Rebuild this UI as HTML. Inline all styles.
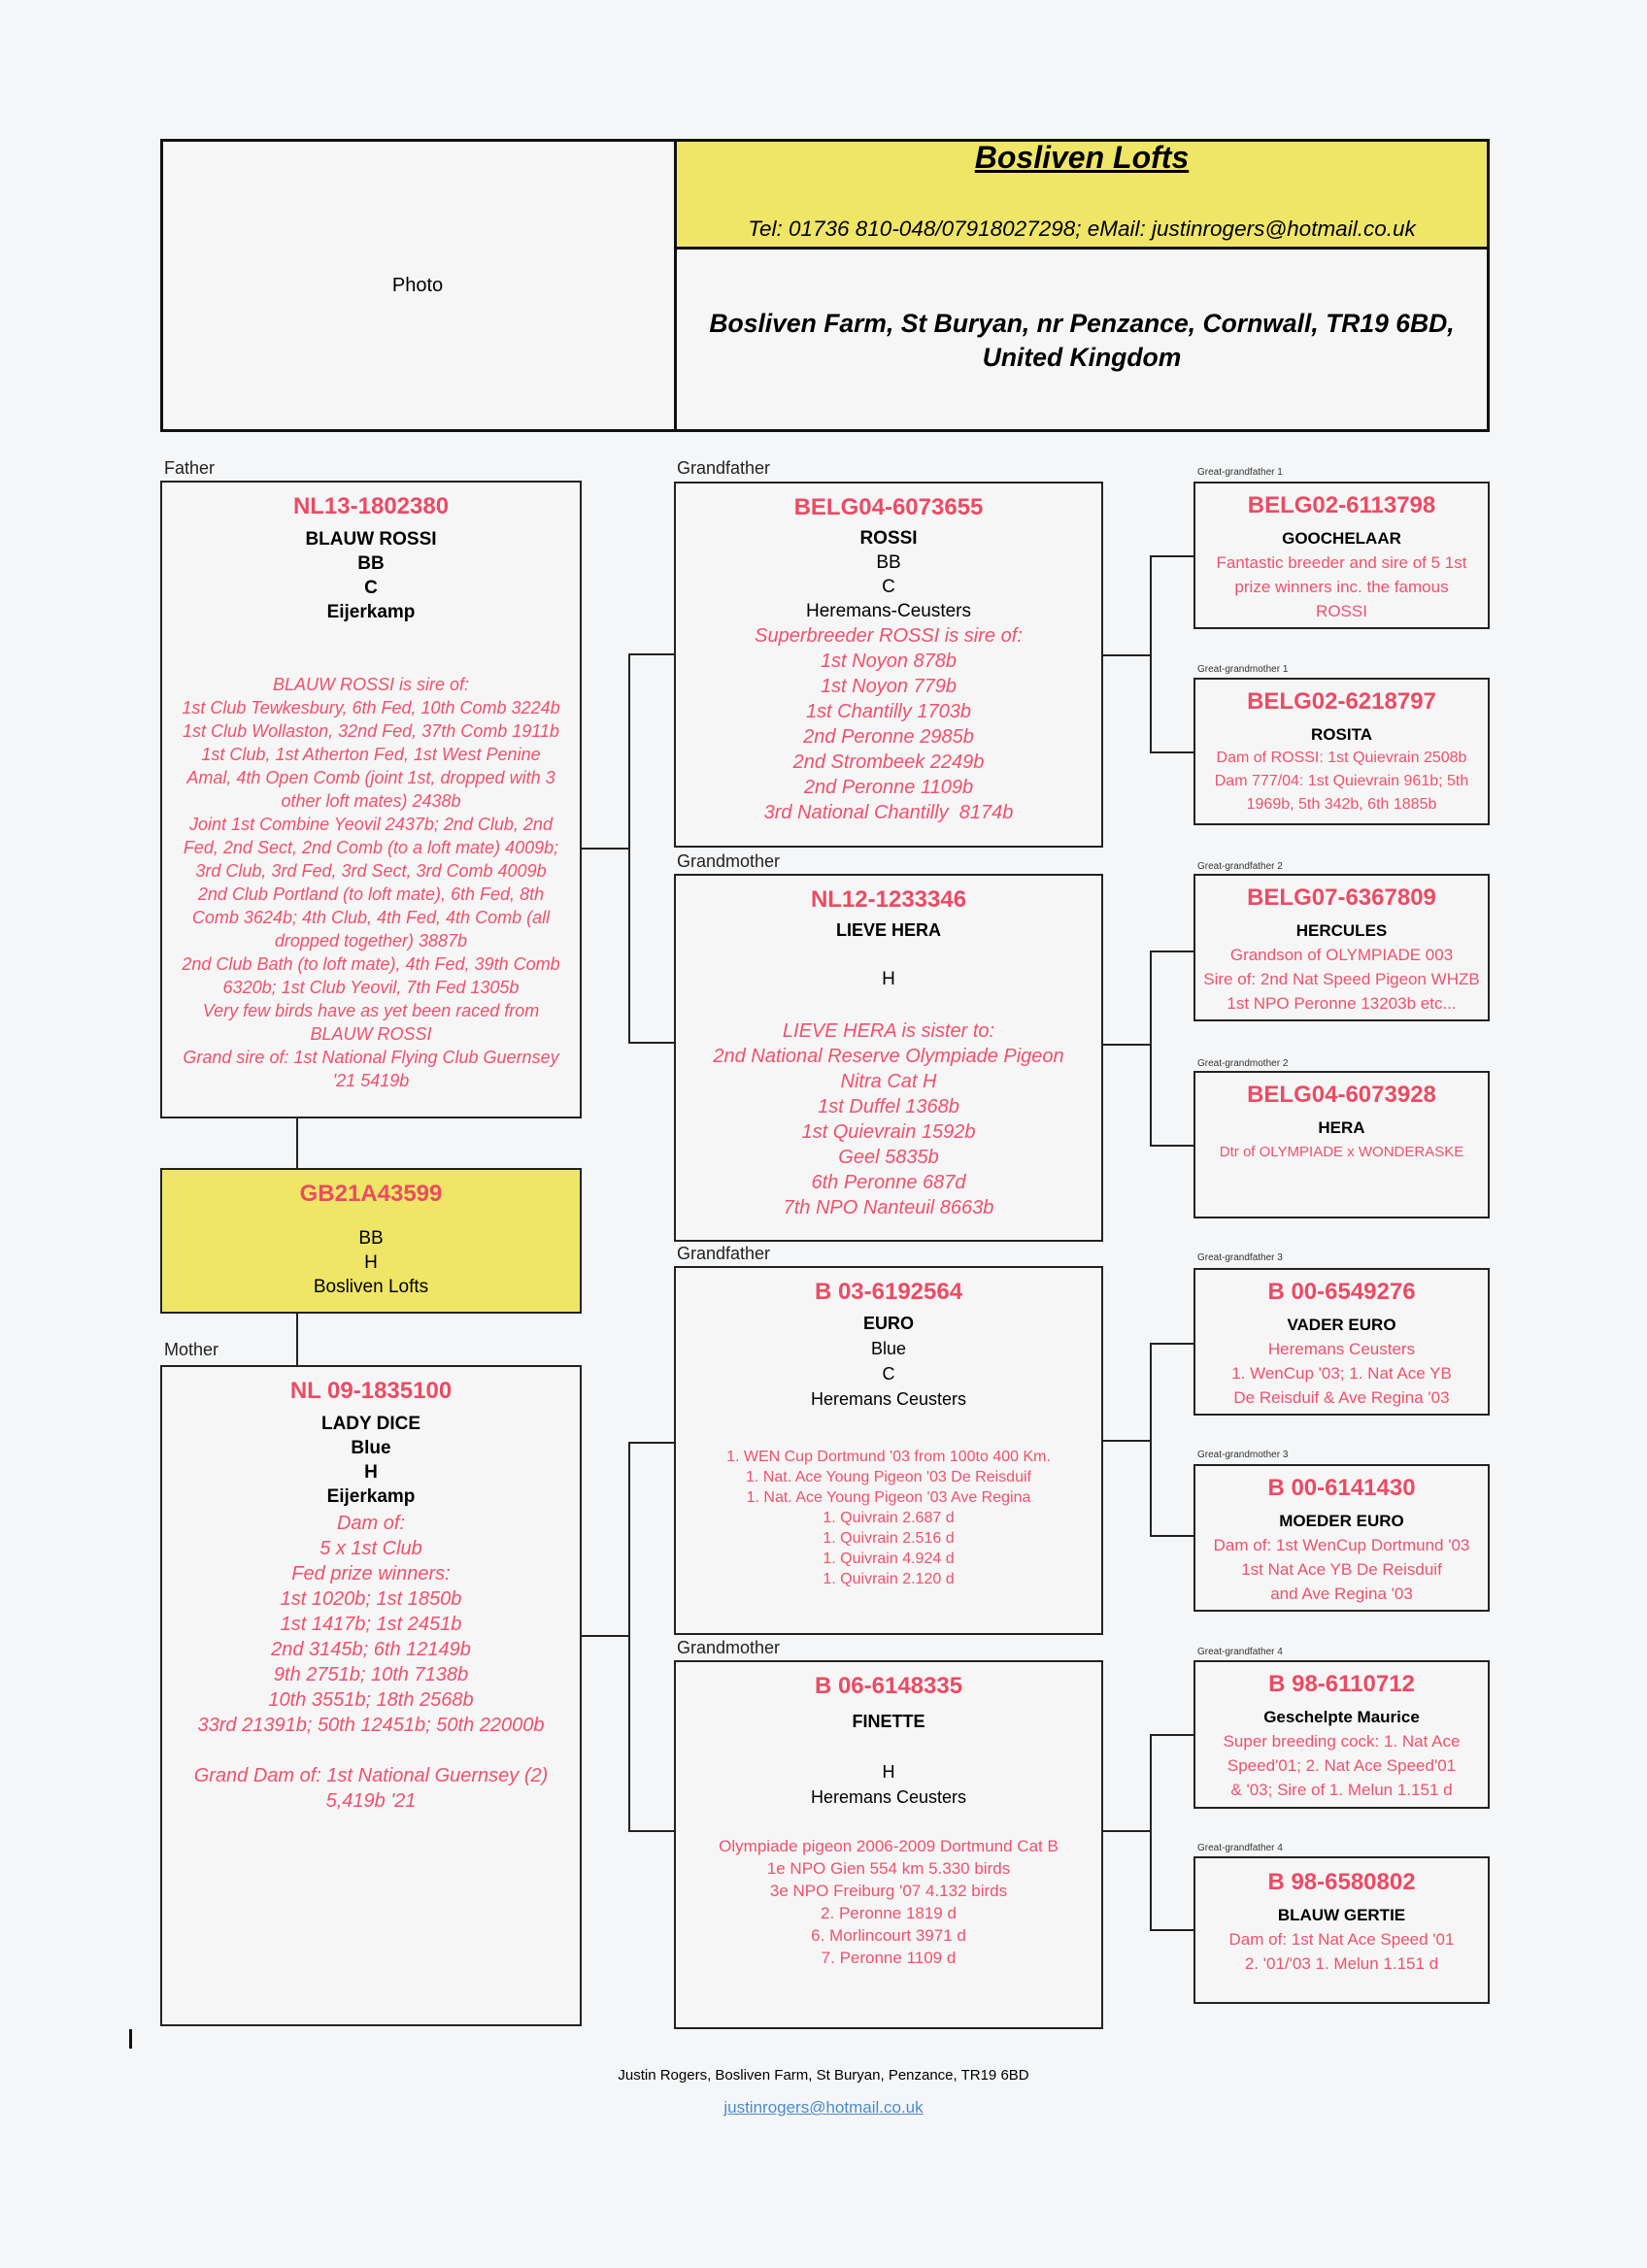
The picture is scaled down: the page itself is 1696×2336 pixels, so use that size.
<!DOCTYPE html>
<html><head><meta charset="utf-8"><style>
body{margin:0;width:1696px;height:2336px;background:#f5f6f7;position:relative;font-family:"Liberation Sans",sans-serif;overflow:hidden}
.a{position:absolute;box-sizing:border-box}
.box{position:absolute;box-sizing:border-box;border:2px solid #222;text-align:center;background:#f6f6f7}
.r{color:#f2506a}
.t{color:#ee4a62;font-weight:bold;font-size:24px;line-height:30px}
.n{font-weight:bold}
.lab{position:absolute;font-size:18px;color:#222}
.sl{position:absolute;font-size:10px;color:#333}
.h{position:absolute;height:2px;background:#222}
.v{position:absolute;width:2px;background:#222}
.big{font-size:19px;line-height:25px}
.gg{font-size:17px;line-height:25px}
i{font-style:italic}
</style></head><body>
<!-- header -->
<div class="a" style="left:165px;top:143px;width:1369px;height:302px;border:3px solid #111;background:#f6f6f7"></div>
<div class="a" style="left:694px;top:143px;width:840px;height:114px;background:#efe667;border:3px solid #111"></div>
<div class="a" style="left:694px;top:143px;width:3px;height:302px;background:#111"></div>
<div class="a" style="left:165px;top:283px;width:530px;text-align:center;font-size:20px">Photo</div>
<div class="a" style="left:694px;top:144px;width:840px;text-align:center;font-size:32px;font-weight:bold;font-style:italic;text-decoration:underline">Bosliven Lofts</div>
<div class="a" style="left:694px;top:223px;width:840px;text-align:center;font-size:22.5px;font-style:italic">Tel: 01736 810-048/07918027298; eMail: justinrogers@hotmail.co.uk</div>
<div class="a" style="left:694px;top:316px;width:840px;text-align:center;font-size:26.5px;font-weight:bold;font-style:italic;line-height:35px">Bosliven Farm, St Buryan, nr Penzance, Cornwall, TR19 6BD,<br>United Kingdom</div>

<!-- labels -->
<div class="lab" style="left:169px;top:472px">Father</div>
<div class="lab" style="left:697px;top:472px">Grandfather</div>
<div class="lab" style="left:697px;top:877px">Grandmother</div>
<div class="lab" style="left:169px;top:1380px">Mother</div>
<div class="lab" style="left:697px;top:1281px">Grandfather</div>
<div class="lab" style="left:697px;top:1687px">Grandmother</div>
<div class="sl" style="left:1233px;top:481px">Great-grandfather 1</div>
<div class="sl" style="left:1233px;top:684px">Great-grandmother 1</div>
<div class="sl" style="left:1233px;top:887px">Great-grandfather 2</div>
<div class="sl" style="left:1233px;top:1090px">Great-grandmother 2</div>
<div class="sl" style="left:1233px;top:1290px">Great-grandfather 3</div>
<div class="sl" style="left:1233px;top:1493px">Great-grandmother 3</div>
<div class="sl" style="left:1233px;top:1696px">Great-grandfather 4</div>
<div class="sl" style="left:1233px;top:1898px">Great-grandfather 4</div>

<!-- connectors -->
<div class="v" style="left:305px;top:1152px;height:52px"></div>
<div class="v" style="left:305px;top:1353px;height:54px"></div>
<div class="h" style="left:599px;top:873px;width:50px"></div>
<div class="v" style="left:647px;top:673px;height:402px"></div>
<div class="h" style="left:647px;top:673px;width:48px"></div>
<div class="h" style="left:647px;top:1073px;width:48px"></div>
<div class="h" style="left:599px;top:1684px;width:50px"></div>
<div class="v" style="left:647px;top:1485px;height:402px"></div>
<div class="h" style="left:647px;top:1485px;width:48px"></div>
<div class="h" style="left:647px;top:1885px;width:48px"></div>
<div class="h" style="left:1136px;top:674px;width:50px"></div>
<div class="v" style="left:1184px;top:572px;height:204px"></div>
<div class="h" style="left:1184px;top:572px;width:46px"></div>
<div class="h" style="left:1184px;top:774px;width:46px"></div>
<div class="h" style="left:1136px;top:1075px;width:50px"></div>
<div class="v" style="left:1184px;top:979px;height:202px"></div>
<div class="h" style="left:1184px;top:979px;width:46px"></div>
<div class="h" style="left:1184px;top:1179px;width:46px"></div>
<div class="h" style="left:1136px;top:1483px;width:50px"></div>
<div class="v" style="left:1184px;top:1383px;height:200px"></div>
<div class="h" style="left:1184px;top:1383px;width:46px"></div>
<div class="h" style="left:1184px;top:1581px;width:46px"></div>
<div class="h" style="left:1136px;top:1885px;width:50px"></div>
<div class="v" style="left:1184px;top:1786px;height:203px"></div>
<div class="h" style="left:1184px;top:1786px;width:46px"></div>
<div class="h" style="left:1184px;top:1987px;width:46px"></div>

<!-- father -->
<div class="box big" style="left:165px;top:495px;width:434px;height:657px;padding-top:10px">
<div class="t">NL13-1802380</div>
<div class="n" style="margin-top:6px">BLAUW ROSSI<br>BB<br>C<br>Eijerkamp</div>
<div class="r" style="margin-top:50px;font-size:18px;line-height:24px"><i>BLAUW ROSSI is sire of:<br>1st Club Tewkesbury, 6th Fed, 10th Comb 3224b<br>1st Club Wollaston, 32nd Fed, 37th Comb 1911b<br>1st Club, 1st Atherton Fed, 1st West Penine<br>Amal, 4th Open Comb (joint 1st, dropped with 3<br>other loft mates) 2438b<br>Joint 1st Combine Yeovil 2437b; 2nd Club, 2nd<br>Fed, 2nd Sect, 2nd Comb (to a loft mate) 4009b;<br>3rd Club, 3rd Fed, 3rd Sect, 3rd Comb 4009b<br>2nd Club Portland (to loft mate), 6th Fed, 8th<br>Comb 3624b; 4th Club, 4th Fed, 4th Comb (all<br>dropped together) 3887b<br>2nd Club Bath (to loft mate), 4th Fed, 39th Comb<br>6320b; 1st Club Yeovil, 7th Fed 1305b<br>Very few birds have as yet been raced from<br>BLAUW ROSSI<br>Grand sire of: 1st National Flying Club Guernsey<br>'21 5419b</i></div>
</div>

<!-- subject -->
<div class="box big" style="left:165px;top:1203px;width:434px;height:150px;background:#efe667;padding-top:10px">
<div class="t">GB21A43599</div>
<div style="margin-top:18px">BB<br>H<br>Bosliven Lofts</div>
</div>

<!-- mother -->
<div class="box big" style="left:165px;top:1406px;width:434px;height:681px;padding-top:10px">
<div class="t">NL 09-1835100</div>
<div class="n" style="margin-top:6px">LADY DICE<br>Blue<br>H<br>Eijerkamp</div>
<div class="r" style="margin-top:2px;font-size:20px;line-height:26px"><i>Dam of:<br>5 x 1st Club<br>Fed prize winners:<br>1st 1020b; 1st 1850b<br>1st 1417b; 1st 2451b<br>2nd 3145b; 6th 12149b<br>9th 2751b; 10th 7138b<br>10th 3551b; 18th 2568b<br>33rd 21391b; 50th 12451b; 50th 22000b<br><br>Grand Dam of: 1st National Guernsey (2)<br>5,419b '21</i></div>
</div>

<!-- grandfather 1 -->
<div class="box big" style="left:694px;top:496px;width:442px;height:377px;padding-top:10px">
<div class="t">BELG04-6073655</div>
<div style="margin-top:4px"><b>ROSSI</b><br>BB<br>C<br>Heremans-Ceusters</div>
<div class="r" style="font-size:20px;line-height:26px"><i>Superbreeder ROSSI is sire of:<br>1st Noyon 878b<br>1st Noyon 779b<br>1st Chantilly 1703b<br>2nd Peronne 2985b<br>2nd Strombeek 2249b<br>2nd Peronne 1109b<br>3rd National Chantilly&nbsp; 8174b</i></div>
</div>

<!-- grandmother 1 -->
<div class="box big" style="left:694px;top:900px;width:442px;height:379px;padding-top:10px">
<div class="t">NL12-1233346</div>
<div class="n" style="margin-top:4px;font-size:18px">LIEVE HERA</div>
<div style="margin-top:25px">H</div>
<div class="r" style="margin-top:28px;font-size:20px;line-height:26px"><i>LIEVE HERA is sister to:<br>2nd National Reserve Olympiade Pigeon<br>Nitra Cat H<br>1st Duffel 1368b<br>1st Quievrain 1592b<br>Geel 5835b<br>6th Peronne 687d<br>7th NPO Nanteuil 8663b</i></div>
</div>

<!-- grandfather 2 -->
<div class="box" style="left:694px;top:1304px;width:442px;height:380px;padding-top:10px;font-size:18px;line-height:26px">
<div class="t">B 03-6192564</div>
<div style="margin-top:4px"><b>EURO</b><br>Blue<br>C<br>Heremans Ceusters</div>
<div class="r" style="margin-top:36px;font-size:16px;line-height:21px">1. WEN Cup Dortmund '03 from 100to 400 Km.<br>1. Nat. Ace Young Pigeon '03 De Reisduif<br>1. Nat. Ace Young Pigeon '03 Ave Regina<br>1. Quivrain 2.687 d<br>1. Quivrain 2.516 d<br>1. Quivrain 4.924 d<br>1. Quivrain 2.120 d</div>
</div>

<!-- grandmother 2 -->
<div class="box" style="left:694px;top:1710px;width:442px;height:380px;padding-top:10px;font-size:18px;line-height:26px">
<div class="t">B 06-6148335</div>
<div class="n" style="margin-top:8px">FINETTE</div>
<div style="margin-top:26px">H<br>Heremans Ceusters</div>
<div class="r" style="margin-top:26px;font-size:17px;line-height:23px">Olympiade pigeon 2006-2009 Dortmund Cat B<br>1e NPO Gien 554 km 5.330 birds<br>3e NPO Freiburg '07 4.132 birds<br>2. Peronne 1819 d<br>6. Morlincourt 3971 d<br>7. Peronne 1109 d</div>
</div>

<!-- great-grandparents -->
<div class="box gg" style="left:1229px;top:496px;width:305px;height:152px;padding-top:8px">
<div class="t">BELG02-6113798</div>
<div class="n" style="margin-top:6px">GOOCHELAAR</div>
<div class="r">Fantastic breeder and sire of 5 1st<br>prize winners inc. the famous<br>ROSSI</div></div>

<div class="box gg" style="left:1229px;top:698px;width:305px;height:152px;padding-top:8px">
<div class="t">BELG02-6218797</div>
<div class="n" style="margin-top:6px">ROSITA</div>
<div class="r" style="font-size:16px;line-height:24px">Dam of ROSSI: 1st Quievrain 2508b<br>Dam 777/04: 1st Quievrain 961b; 5th<br>1969b, 5th 342b, 6th 1885b</div></div>

<div class="box gg" style="left:1229px;top:900px;width:305px;height:152px;padding-top:8px">
<div class="t">BELG07-6367809</div>
<div class="n" style="margin-top:6px">HERCULES</div>
<div class="r">Grandson of OLYMPIADE 003<br>Sire of: 2nd Nat Speed Pigeon WHZB<br>1st NPO Peronne 13203b etc...</div></div>

<div class="box gg" style="left:1229px;top:1103px;width:305px;height:152px;padding-top:8px">
<div class="t">BELG04-6073928</div>
<div class="n" style="margin-top:6px">HERA</div>
<div class="r" style="font-size:15px">Dtr of OLYMPIADE x WONDERASKE</div></div>

<div class="box gg" style="left:1229px;top:1306px;width:305px;height:152px;padding-top:8px">
<div class="t">B 00-6549276</div>
<div class="n" style="margin-top:6px">VADER EURO</div>
<div class="r">Heremans Ceusters<br>1. WenCup '03; 1. Nat Ace YB<br>De Reisduif &amp; Ave Regina '03</div></div>

<div class="box gg" style="left:1229px;top:1508px;width:305px;height:152px;padding-top:8px">
<div class="t">B 00-6141430</div>
<div class="n" style="margin-top:6px">MOEDER EURO</div>
<div class="r">Dam of: 1st WenCup Dortmund '03<br>1st Nat Ace YB De Reisduif<br>and Ave Regina '03</div></div>

<div class="box gg" style="left:1229px;top:1710px;width:305px;height:153px;padding-top:8px">
<div class="t">B 98-6110712</div>
<div class="n" style="margin-top:6px">Geschelpte Maurice</div>
<div class="r">Super breeding cock: 1. Nat Ace<br>Speed'01; 2. Nat Ace Speed'01<br>&amp; '03; Sire of 1. Melun 1.151 d</div></div>

<div class="box gg" style="left:1229px;top:1912px;width:305px;height:152px;padding-top:10px">
<div class="t">B 98-6580802</div>
<div class="n" style="margin-top:6px">BLAUW GERTIE</div>
<div class="r">Dam of: 1st Nat Ace Speed '01<br>2. '01/'03 1. Melun 1.151 d</div></div>

<div class="a" style="left:133px;top:2090px;width:3px;height:20px;background:#111"></div>
<!-- footer -->
<div class="a" style="left:0;top:2129px;width:1696px;text-align:center;font-size:15px">Justin Rogers, Bosliven Farm, St Buryan, Penzance, TR19 6BD</div>
<div class="a" style="left:0;top:2161px;width:1696px;text-align:center;font-size:17px;color:#4a8ad0;text-decoration:underline">justinrogers@hotmail.co.uk</div>
</body></html>
